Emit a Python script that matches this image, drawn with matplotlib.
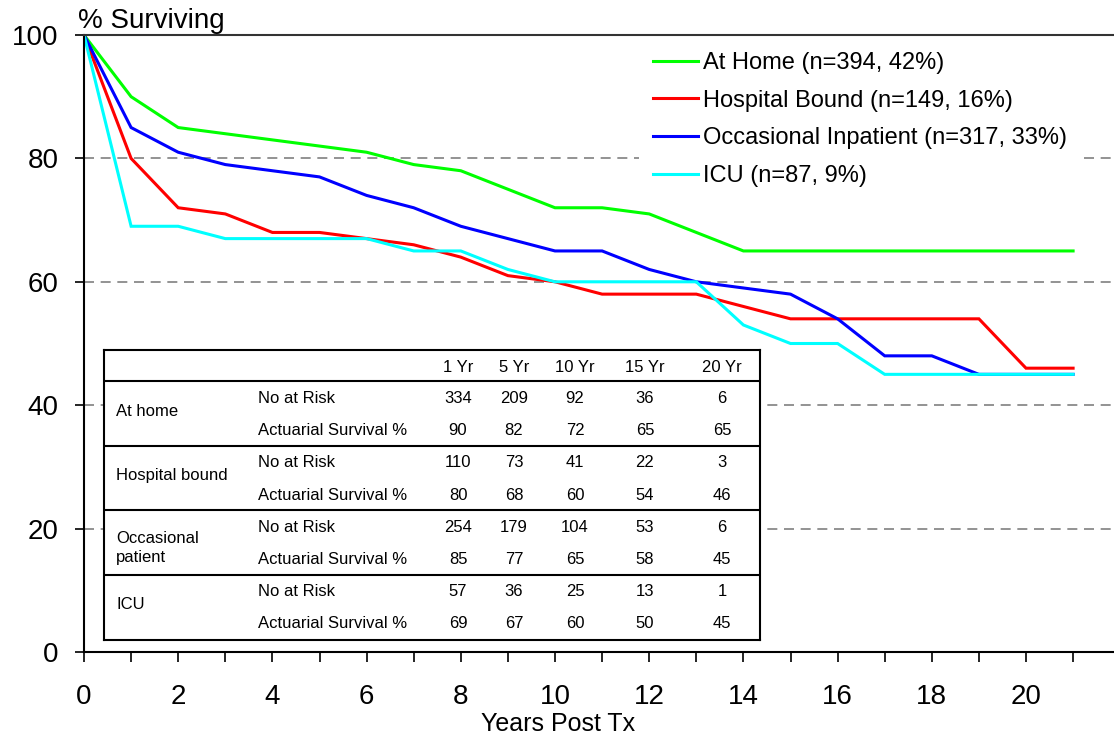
import numpy as np
import matplotlib
matplotlib.use("Agg")
import matplotlib.pyplot as plt
from matplotlib.ticker import MultipleLocator

plt.rcParams["font.family"] = ["Liberation Sans", "DejaVu Sans"]

# survival curves, % surviving at each year post Tx
years = list(range(22))
at_home = [100, 90, 85, 84, 83, 82, 81, 79, 78, 75, 72, 72, 71, 68, 65, 65, 65, 65, 65, 65, 65, 65]
hospital = [100, 80, 72, 71, 68, 68, 67, 66, 64, 61, 60, 58, 58, 58, 56, 54, 54, 54, 54, 54, 46, 46]
occasional = [100, 85, 81, 79, 78, 77, 74, 72, 69, 67, 65, 65, 62, 60, 59, 58, 54, 48, 48, 45, 45, 45]
icu = [100, 69, 69, 67, 67, 67, 67, 65, 65, 62, 60, 60, 60, 60, 53, 50, 50, 45, 45, 45, 45, 45]

labels = ["At Home (n=394, 42%)", "Hospital Bound (n=149, 16%)",
          "Occasional Inpatient (n=317, 33%)", "ICU (n=87, 9%)"]
colors = ["#00FF00", "#FF0000", "#0000FF", "#00FFFF"]

# table under the curves
tab_cols = ["1 Yr", "5 Yr", "10 Yr", "15 Yr", "20 Yr"]
tab_groups = ["At home", "Hospital bound", "Occasional\npatient", "ICU"]
tab_rows = ["No at Risk", "Actuarial Survival %"]
at_risk = [[334, 209, 92, 36, 6],
           [110, 73, 41, 22, 3],
           [254, 179, 104, 53, 6],
           [57, 36, 25, 13, 1]]
actuarial = [[90, 82, 72, 65, 65],
             [80, 68, 60, 54, 46],
             [85, 77, 65, 58, 45],
             [69, 67, 60, 50, 45]]

W, H = 1114, 740
fig = plt.figure(figsize=(W / 100, H / 100), dpi=100)
ax = fig.add_axes([84 / W, 88 / H, 1 - 84 / W, (652 - 35) / H])

for vals, lab, c in zip([at_home, hospital, occasional, icu], labels, colors):
    ax.plot(years, vals, color=c, lw=2.2, label=lab, solid_joinstyle="miter")

ax.set_xlim(0, (W - 84) / 47.1)
ax.set_ylim(0, 100)
ax.set_axisbelow(True)
ax.yaxis.set_major_locator(MultipleLocator(20))
ax.yaxis.grid(True, color="#808080", linestyle=(0, (6, 4)), lw=1.2)

ax.set_xticks(range(0, 21, 2))
ax.set_xticks(range(1, 22, 2), minor=True)
ax.tick_params(axis="x", which="both", direction="out", length=7, width=1.2,
               pad=16, labelsize=20)
ax.tick_params(axis="y", direction="out", length=6.5, width=1.2, pad=12, labelsize=20)

for s in ["left", "bottom", "top"]:
    ax.spines[s].set_linewidth(1.5)
ax.spines["top"].set_color("#333333")
ax.spines["right"].set_visible(False)

leg = ax.legend(loc="upper left", bbox_to_anchor=(639 / W, (H - 38) / H),
                bbox_transform=fig.transFigure, fontsize=17, frameon=True,
                facecolor="white", edgecolor="none", framealpha=1,
                borderpad=0.6, borderaxespad=0, handlelength=1.9,
                handletextpad=0.2, labelspacing=0.66, fancybox=False,
                handleheight=0.7)
leg.set_zorder(2.4)

fig.text(78 / W, (H - 28) / H, "% Surviving", fontsize=20, va="baseline", ha="left")
fig.text(558 / W, (H - 731) / H, "Years Post Tx", fontsize=18, va="baseline", ha="center")

# table as an inset axes in pixel units
tx0, ty0, tx1, ty1 = 104, 350, 760, 640
tab = fig.add_axes([tx0 / W, (H - ty1) / H, (tx1 - tx0) / W, (ty1 - ty0) / H])
tab.set_xlim(0, tx1 - tx0)
tab.set_ylim(ty1 - ty0, 0)
tab.set_xticks([])
tab.set_yticks([])
tab.set_facecolor("white")
for s in tab.spines.values():
    s.set_linewidth(1.5)
    s.set_color("black")

col_x = [354, 410, 471, 541, 618]
fs = 12
for cx, name in zip(col_x, tab_cols):
    tab.text(cx, 17, name, ha="center", va="center", fontsize=fs)
tab.axhline(31, color="black", lw=1.5)
group_h = 64.5
for g, name in enumerate(tab_groups):
    top = 31 + g * group_h
    if g > 0:
        tab.axhline(top, color="black", lw=1.5)
    gy = top + 30 if "\n" not in name else top + 38
    tab.text(12, gy, name, ha="left", va="center", fontsize=fs, linespacing=1.35)
    for r, (rname, vals) in enumerate(zip(tab_rows, [at_risk[g], actuarial[g]])):
        ry = top + 17 + r * 32.5
        tab.text(154, ry, rname, ha="left", va="center", fontsize=fs)
        for cx, v in zip(col_x, vals):
            tab.text(cx, ry, str(v), ha="center", va="center", fontsize=fs)

fig.savefig("out.png", dpi=100)
